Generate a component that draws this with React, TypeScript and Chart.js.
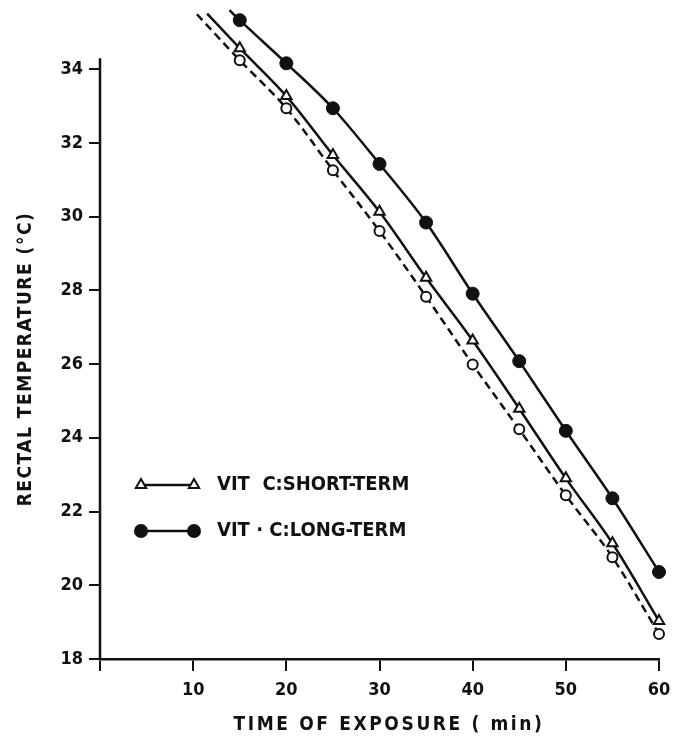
import { useEffect, useRef } from 'react';
import { Chart, registerables } from 'chart.js';

Chart.register(...registerables);

// Exposure time (min)
const minutes = [15, 20, 25, 30, 35, 40, 45, 50, 55, 60];
// Rectal temperature (°C)
const longTerm = [35.33, 34.16, 32.94, 31.43, 29.84, 27.91, 26.08, 24.19, 22.36, 20.36];
const shortTerm = [34.57, 33.27, 31.67, 30.13, 28.34, 26.64, 24.79, 22.9, 21.14, 19.03];
const control = [34.24, 32.94, 31.26, 29.61, 27.83, 25.99, 24.23, 22.44, 20.76, 18.68];
// start of each drawn curve (before the first marker): [long, short, control]
const leadX = [13.9, 11.5, 10.4];
const leadY = [35.6, 35.51, 35.49];

const xTicks = [0, 10, 20, 30, 40, 50, 60];
const yTicks = [18, 20, 22, 24, 26, 28, 30, 32, 34];
const yAxisTop = 34.3;
const legendLabels = ['VIT  C:SHORT-TERM', 'VIT \u00B7 C:LONG-TERM'];
const xTitle = 'TIME OF EXPOSURE ( min)';
const yTitle = 'RECTAL TEMPERATURE (\u00B0C)';

const FONT = "'DejaVu Sans Condensed', 'DejaVu Sans', sans-serif";
const INK = '#111';

const toPoints = (vals: number[], k: number) => [
  { x: leadX[k], y: leadY[k] },
  ...minutes.map((m, i) => ({ x: m, y: vals[i] })),
];

const decorations = {
  id: 'decorations',
  beforeDatasetsDraw(chart: any) {
    const { ctx, chartArea, scales } = chart;
    ctx.save();
    ctx.strokeStyle = INK;
    ctx.lineWidth = 2.5;
    ctx.beginPath();
    ctx.moveTo(chartArea.left, scales.y.getPixelForValue(yAxisTop));
    ctx.lineTo(chartArea.left, chartArea.bottom);
    ctx.stroke();
    ctx.restore();
  },
  afterDraw(chart: any) {
    const { ctx, chartArea } = chart;
    ctx.save();
    // axis titles
    ctx.fillStyle = INK;
    ctx.textAlign = 'center';
    ctx.textBaseline = 'middle';
    ctx.font = `bold 19px ${FONT}`;
    (ctx as any).letterSpacing = '2.6px';
    ctx.fillText(xTitle, chartArea.left + 289, chartArea.bottom + 66);
    (ctx as any).letterSpacing = '1.5px';
    ctx.translate(26, chartArea.bottom - 300);
    ctx.rotate(-Math.PI / 2);
    ctx.fillText(yTitle, 0, 0);
    ctx.restore();

    // inline legend
    const x1 = chartArea.left + 41;
    const x2 = chartArea.left + 94;
    const tx = chartArea.left + 117;
    const rows = [chartArea.bottom - 174, chartArea.bottom - 128];
    ctx.save();
    ctx.strokeStyle = INK;
    ctx.fillStyle = INK;
    rows.forEach((y, r) => {
      ctx.lineWidth = 2.5;
      ctx.beginPath();
      ctx.moveTo(x1, y);
      ctx.lineTo(x2, y);
      ctx.stroke();
      [x1, x2].forEach((cx) => {
        ctx.beginPath();
        if (r === 0) {
          const rad = 6;
          ctx.moveTo(cx, y - rad);
          ctx.lineTo(cx + rad * 0.866, y + rad * 0.5);
          ctx.lineTo(cx - rad * 0.866, y + rad * 0.5);
          ctx.closePath();
          ctx.fillStyle = '#fff';
          ctx.fill();
          ctx.lineWidth = 2;
          ctx.stroke();
        } else {
          ctx.arc(cx, y, 7, 0, Math.PI * 2);
          ctx.fillStyle = INK;
          ctx.fill();
        }
      });
      ctx.fillStyle = INK;
      ctx.font = `bold 20px ${FONT}`;
      ctx.textAlign = 'left';
      ctx.textBaseline = 'middle';
      ctx.fillText(legendLabels[r], tx, y);
    });
    ctx.restore();
  },
};

export default function App() {
  const ref = useRef<HTMLCanvasElement>(null);
  useEffect(() => {
    if (!ref.current) return;
    const chart = new Chart(ref.current, {
      type: 'line',
      data: {
        datasets: [
          {
            label: 'control',
            data: toPoints(control, 2),
            borderColor: INK,
            borderWidth: 2.5,
            borderDash: [8, 5],
            pointStyle: 'circle',
            pointRadius: (c: any) => (c.dataIndex === 0 ? 0 : 5),
            pointBackgroundColor: '#fff',
            pointBorderColor: INK,
            pointBorderWidth: 2,
            cubicInterpolationMode: 'monotone',
            clip: false,
          } as any,
          {
            label: legendLabels[0],
            data: toPoints(shortTerm, 1),
            borderColor: INK,
            borderWidth: 2.5,
            pointStyle: 'triangle',
            pointRadius: (c: any) => (c.dataIndex === 0 ? 0 : 6),
            pointBackgroundColor: '#fff',
            pointBorderColor: INK,
            pointBorderWidth: 2,
            cubicInterpolationMode: 'monotone',
            clip: false,
          } as any,
          {
            label: legendLabels[1],
            data: toPoints(longTerm, 0),
            borderColor: INK,
            borderWidth: 2.5,
            pointStyle: 'circle',
            pointRadius: (c: any) => (c.dataIndex === 0 ? 0 : 6.5),
            pointBackgroundColor: INK,
            pointBorderColor: INK,
            pointBorderWidth: 1,
            cubicInterpolationMode: 'monotone',
            clip: false,
          } as any,
        ],
      },
      options: {
        animation: false,
        responsive: true,
        maintainAspectRatio: false,
        layout: { padding: { top: 0, right: 22, left: 0, bottom: 0 } },
        plugins: { legend: { display: false }, tooltip: { enabled: false } },
        scales: {
          x: {
            type: 'linear',
            min: 0,
            max: 60,
            afterBuildTicks: (s: any) => {
              s.ticks = xTicks.map((v) => ({ value: v }));
            },
            afterFit: (s: any) => {
              s.height = 78;
              s.paddingLeft = 0;
              s.paddingRight = 0;
            },
            ticks: {
              color: INK,
              padding: 9,
              font: { family: FONT, size: 18, weight: 'bold' },
              callback: (v: any) => (v === 0 ? '' : String(v)),
            },
            grid: { drawOnChartArea: false, color: INK, lineWidth: 2, tickLength: 12 },
            border: { display: true, color: INK, width: 2.5 },
          },
          y: {
            type: 'linear',
            min: 18,
            max: 35.66,
            afterBuildTicks: (s: any) => {
              s.ticks = yTicks.map((v) => ({ value: v }));
            },
            afterFit: (s: any) => {
              s.width = 100;
              s.paddingTop = 0;
              s.paddingBottom = 0;
            },
            ticks: {
              color: INK,
              padding: 6,
              font: { family: FONT, size: 18, weight: 'bold' },
            },
            grid: { drawOnChartArea: false, color: INK, lineWidth: 2, tickLength: 11 },
            border: { display: false },
          },
        },
      },
      plugins: [decorations],
    });
    return () => chart.destroy();
  }, []);
  return (
    <div style={{ position: 'fixed', left: 0, top: 0, width: 681, height: 737, background: '#fff' }}>
      <canvas ref={ref} />
    </div>
  );
}
